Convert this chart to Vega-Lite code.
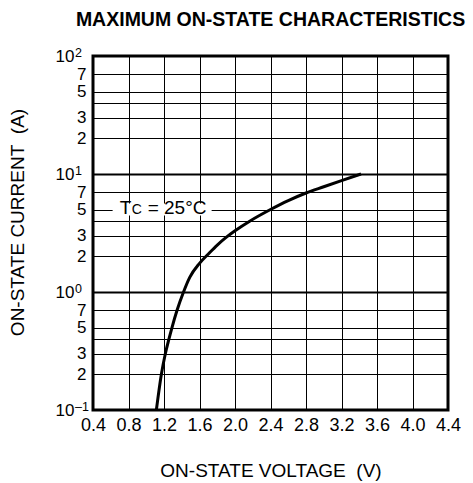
{
  "$schema": "https://vega.github.io/schema/vega-lite/v6.json",
  "width": 355,
  "height": 354,
  "autosize": {"type": "none"},
  "padding": {"left": 93, "top": 56, "right": 25, "bottom": 73},
  "background": "white",
  "title": {
    "text": "MAXIMUM ON-STATE CHARACTERISTICS",
    "fontSize": 19.5,
    "fontWeight": "bold",
    "font": "Liberation Sans",
    "color": "#000",
    "anchor": "middle",
    "frame": "group",
    "baseline": "alphabetic",
    "offset": 2
  },
  "config": {
    "font": "Liberation Sans",
    "view": {"stroke": "#000", "strokeWidth": 3}
  },
  "layer": [
    {
      "data": {
        "values": [
          {"v": 1.114, "i": 0.1},
          {"v": 1.17, "i": 0.2},
          {"v": 1.215, "i": 0.3},
          {"v": 1.256, "i": 0.4},
          {"v": 1.29, "i": 0.5},
          {"v": 1.347, "i": 0.7},
          {"v": 1.42, "i": 1.0},
          {"v": 1.49, "i": 1.33},
          {"v": 1.6, "i": 1.75},
          {"v": 1.7, "i": 2.1},
          {"v": 1.8, "i": 2.5},
          {"v": 1.9, "i": 2.9},
          {"v": 2.0, "i": 3.3},
          {"v": 2.17, "i": 4.0},
          {"v": 2.4, "i": 5.0},
          {"v": 2.6, "i": 5.95},
          {"v": 2.8, "i": 6.9},
          {"v": 3.0, "i": 7.8},
          {"v": 3.2, "i": 8.8},
          {"v": 3.42, "i": 10}
        ]
      },
      "mark": {"type": "line", "color": "#000", "strokeWidth": 3, "interpolate": "monotone"},
      "encoding": {
        "x": {
          "field": "v",
          "type": "quantitative",
          "scale": {"domain": [0.4, 4.4], "nice": false, "zero": false},
          "axis": {
            "values": [0.4, 0.8, 1.2, 1.6, 2.0, 2.4, 2.8, 3.2, 3.6, 4.0, 4.4],
            "tickCount": 20,
            "format": ".1f",
            "grid": true,
            "gridColor": "#000",
            "gridOpacity": 1,
            "gridWidth": 1,
            "ticks": false,
            "domain": false,
            "labelFlush": false,
            "labelOverlap": false,
            "labelBound": false,
            "labelFontSize": 18,
            "labelColor": "#000",
            "labelPadding": 6,
            "title": "ON-STATE VOLTAGE\u00a0 (V)",
            "titleFontSize": 19,
            "titleFontWeight": "normal",
            "titleColor": "#000",
            "titleY": 60,
            "titleBaseline": "middle"
          }
        },
        "y": {
          "field": "i",
          "type": "quantitative",
          "scale": {"type": "log", "domain": [0.1, 100], "nice": false},
          "axis": {
            "values": [0.1, 0.2, 0.3, 0.4, 0.5, 0.7, 1, 2, 3, 4, 5, 7, 10, 20, 30, 40, 50, 70, 100],
            "tickCount": 30,
            "labelExpr": "(datum.value == 100 || datum.value == 10 || datum.value == 1 || datum.value == 0.1) ? '10' : (datum.value == 0.4 || datum.value == 4 || datum.value == 40) ? '' : datum.value < 1 ? format(datum.value * 10, 'd') : datum.value < 10 ? format(datum.value, 'd') : format(datum.value / 10, 'd')",
            "grid": true,
            "gridColor": "#000",
            "gridOpacity": 1,
            "gridWidth": {"condition": {"test": "datum.value == 1 || datum.value == 10", "value": 2}, "value": 1},
            "ticks": false,
            "domain": false,
            "labelOverlap": false,
            "labelBound": false,
            "labelFlush": false,
            "labelFontSize": 17,
            "labelColor": "#000",
            "labelPadding": {"condition": {"test": "datum.value == 100 || datum.value == 10 || datum.value == 1 || datum.value == 0.1", "value": 19}, "value": 7},
            "title": "ON-STATE CURRENT\u00a0 (A)",
            "titleFontSize": 19,
            "titleFontWeight": "normal",
            "titleColor": "#000",
            "titleX": -76,
            "titleY": 166,
            "titleAlign": "center",
            "titleBaseline": "middle"
          }
        }
      }
    },
    {
      "data": {"values": [{"i": 100, "e": "2"}, {"i": 10, "e": "1"}, {"i": 1, "e": "0"}, {"i": 0.1, "e": "–1"}]},
      "mark": {"type": "text", "align": "left", "baseline": "alphabetic", "dx": -18, "dy": 1, "fontSize": 12.5, "color": "#000"},
      "encoding": {
        "x": {"datum": 0.4, "type": "quantitative"},
        "y": {"field": "i", "type": "quantitative"},
        "text": {"field": "e"}
      }
    },
    {
      "data": {"values": [{"v": 0.7, "i": 5}]},
      "mark": {"type": "rect", "fill": "white", "xOffset": -7, "x2Offset": 92, "yOffset": -6, "y2Offset": 6},
      "encoding": {
        "x": {"field": "v", "type": "quantitative"},
        "x2": {"field": "v"},
        "y": {"field": "i", "type": "quantitative"},
        "y2": {"field": "i"}
      }
    },
    {
      "data": {"values": [{"v": 0.7, "i": 5, "t": "T"}]},
      "mark": {"type": "text", "align": "left", "baseline": "alphabetic", "dy": 4.5, "fontSize": 19, "color": "#000"},
      "encoding": {
        "x": {"field": "v", "type": "quantitative"},
        "y": {"field": "i", "type": "quantitative"},
        "text": {"field": "t"}
      }
    },
    {
      "data": {"values": [{"v": 0.7, "i": 5, "t": "C"}]},
      "mark": {"type": "text", "align": "left", "baseline": "alphabetic", "dy": 4.5, "dx": 12, "fontSize": 14, "color": "#000"},
      "encoding": {
        "x": {"field": "v", "type": "quantitative"},
        "y": {"field": "i", "type": "quantitative"},
        "text": {"field": "t"}
      }
    },
    {
      "data": {"values": [{"v": 0.7, "i": 5, "t": "= 25°C"}]},
      "mark": {"type": "text", "align": "left", "baseline": "alphabetic", "dy": 4.5, "dx": 28, "fontSize": 19, "color": "#000"},
      "encoding": {
        "x": {"field": "v", "type": "quantitative"},
        "y": {"field": "i", "type": "quantitative"},
        "text": {"field": "t"}
      }
    }
  ]
}
